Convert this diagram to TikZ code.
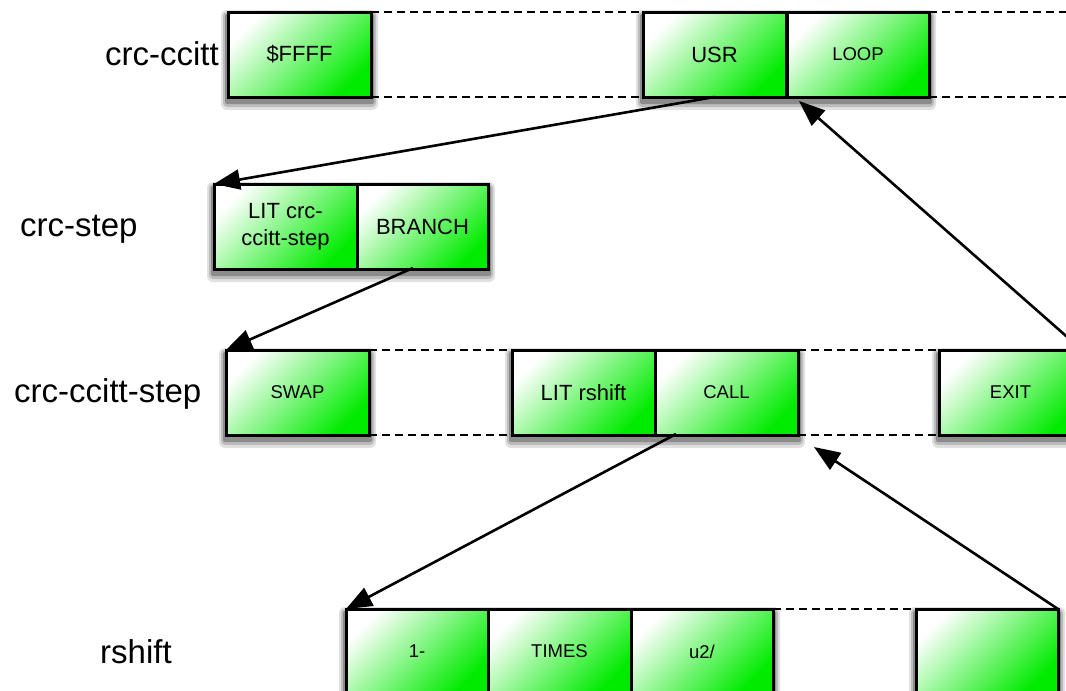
\documentclass[tikz,border=0pt]{standalone}
\usepackage{fontspec}
\setmainfont{Liberation Sans}
\usetikzlibrary{arrows.meta}
\definecolor{gbox}{RGB}{0,235,0}
\definecolor{sh1}{RGB}{225,225,225}
\definecolor{sh2}{RGB}{188,188,188}
\definecolor{sh3}{RGB}{140,140,140}
\begin{document}
\begin{tikzpicture}[x=1pt,y=-1pt,
  cell/.style={draw=black, line width=3pt, top color=white, bottom color=gbox, shading angle=45,
    minimum width=143pt, minimum height=85pt, inner sep=0pt, outer sep=0pt, anchor=north west, text=black},
  big/.style={font=\fontsize{22}{27}\selectfont, align=center},
  small/.style={font=\fontsize{18.5}{22}\selectfont},
  lab/.style={font=\fontsize{33}{36}\selectfont, inner sep=0pt},
  dline/.style={line width=1.1pt, dash pattern=on 8pt off 5pt},
  s1/.style={fill=sh1, rounded corners=6pt},
  s2/.style={fill=sh2, rounded corners=4pt},
  s3/.style={fill=sh3, rounded corners=2pt},
  arr/.style={line width=2.6pt, -{Triangle[length=26pt,width=20pt,fill=black]}}]
\useasboundingbox (0,0) rectangle (1066,691);

% shadows (drawn first, behind the boxes)
\fill[s1] (221,10) rectangle (378,110);
\fill[s2] (223,12) rectangle (376,107);
\fill[s3] (225,14) rectangle (374,104);
\fill[s1] (636,10) rectangle (936,110);
\fill[s2] (638,12) rectangle (934,107);
\fill[s3] (640,14) rectangle (932,104);
\fill[s1] (207,182) rectangle (495,282);
\fill[s2] (209,184) rectangle (493,279);
\fill[s3] (211,186) rectangle (491,276);
\fill[s1] (219,348) rectangle (376,448);
\fill[s2] (221,350) rectangle (374,445);
\fill[s3] (223,352) rectangle (372,442);
\fill[s1] (505,348) rectangle (805,448);
\fill[s2] (507,350) rectangle (803,445);
\fill[s3] (509,352) rectangle (801,442);
\fill[s1] (932,348) rectangle (1089,448);
\fill[s2] (934,350) rectangle (1087,445);
\fill[s3] (936,352) rectangle (1085,442);
\fill[s1] (339,607) rectangle (780,706);
\fill[s2] (341,609) rectangle (778,703);
\fill[s3] (343,611) rectangle (776,700);
\fill[s1] (909,607) rectangle (1065,706);
\fill[s2] (911,609) rectangle (1063,703);
\fill[s3] (913,611) rectangle (1061,700);

% labels
\node[lab, anchor=base east] (l1) at (219,65) {crc-ccitt};
\node[lab, anchor=base west] (l2) at (20,236) {crc-step};
\node[lab, anchor=base west] (l3) at (14,402) {crc-ccitt-step};
\node[lab, anchor=base west] (l4) at (100,663) {rshift};

% row 1
\node[cell,big] (ffff) at (228,12) {\$FFFF};
\node[cell,big] (usr) at (643,12) {USR};
\node[cell,small, minimum width=142pt] (loop) at (787,12) {LOOP};

% row 2
\node[cell,big] (lit) at (214,184) {LIT crc-\\ccitt-step};
\node[cell,big, minimum width=131pt] (branch) at (357,184) {BRANCH};

% row 3
\node[cell,small] (swap) at (226,350) {SWAP};
\node[cell,big] (litr) at (512,350) {LIT rshift};
\node[cell,small] (callnode) at (655,350) {CALL};
\node[cell,small] (exit) at (939,350) {EXIT};

% row 4
\node[cell,small, minimum width=142pt] (one) at (346,609) {1-};
\node[cell,small] (times) at (488,609) {TIMES};
\node[cell,small, minimum width=142pt] (u2) at (631,609) {u2/};
\node[cell,small, minimum width=142pt] (r4) at (916,609) {};

% dashed lines
\draw[dline] (ffff.north east) -- (usr.north west);
\draw[dline] (ffff.south east) -- (usr.south west);
\draw[dline] (loop.north east) -- ++(160,0);
\draw[dline] (loop.south east) -- ++(160,0);
\draw[dline] (swap.north east) -- (litr.north west);
\draw[dline] (swap.south east) -- (litr.south west);
\draw[dline] (callnode.north east) -- (exit.north west);
\draw[dline] (callnode.south east) -- (exit.south west);
\draw[dline] (u2.north east) -- (r4.north west);

% arrows
\coordinate (s2) at (413,268);
\coordinate (s4) at (676,434);
\coordinate (t3) at (799,101);
\coordinate (t5) at (814,447);
\draw[arr] (usr.south) -- (lit.north west);
\draw[arr] (s2) -- (swap.north west);
\draw[arr] (exit.north east) -- (t3);
\draw[arr] (s4) -- (one.north west);
\draw[arr] (r4.north east) -- (t5);
\end{tikzpicture}
\end{document}
